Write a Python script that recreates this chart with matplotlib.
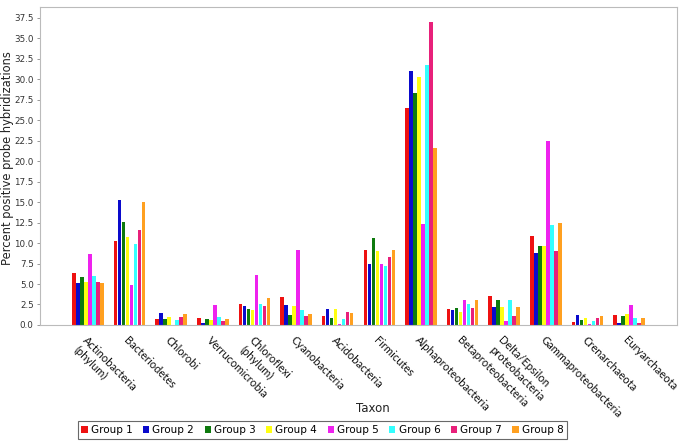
import matplotlib
matplotlib.use('Agg')
import matplotlib.pyplot as plt
import numpy as np

taxa = ['Actinobacteria\n(phylum)', 'Bacteriodetes', 'Chlorobi', 'Verrucomicrobia',
        'Chloroflexi\n(phylum)', 'Cyanobacteria', 'Acidobacteria', 'Firmicutes',
        'Alphaproteobacteria', 'Betaproteobacteria', 'Delta/Epsilon\nproteobacteria',
        'Gammaproteobacteria', 'Crenarchaeota', 'Euryarchaeota']
groups = ['Group 1', 'Group 2', 'Group 3', 'Group 4', 'Group 5', 'Group 6', 'Group 7', 'Group 8']

group1 = [6.3, 10.3, 0.7, 0.9, 2.5, 3.4, 1.1, 9.2, 26.5, 1.9, 3.5, 10.9, 0.4, 1.2]
group2 = [5.1, 15.2, 1.5, 0.2, 2.3, 2.4, 2.0, 7.4, 31.0, 1.8, 2.2, 8.8, 1.2, 0.2]
group3 = [5.8, 12.6, 0.7, 0.7, 2.0, 1.2, 0.9, 10.6, 28.3, 2.1, 3.1, 9.6, 0.6, 1.1]
group4 = [5.2, 10.7, 1.0, 0.6, 1.8, 2.3, 1.9, 9.0, 30.2, 1.6, 2.2, 9.6, 0.8, 1.3]
group5 = [8.6, 4.9, 0.0, 2.4, 6.1, 9.2, 0.1, 7.4, 12.3, 3.0, 0.5, 22.4, 0.1, 2.4]
group6 = [6.0, 9.9, 0.6, 1.0, 2.5, 1.8, 0.7, 7.2, 31.7, 2.6, 3.0, 12.2, 0.5, 0.8]
group7 = [5.3, 11.6, 1.0, 0.5, 2.3, 1.1, 1.6, 8.3, 37.0, 2.1, 1.1, 9.0, 0.8, 0.3]
group8 = [5.1, 15.0, 1.3, 0.7, 3.3, 1.3, 1.5, 9.2, 21.6, 3.1, 2.2, 12.4, 1.1, 0.8]
series = [group1, group2, group3, group4, group5, group6, group7, group8]

colors = ['#ee1111', '#0a0acc', '#0e7a0e', '#ffff11', '#ee22ee', '#33ffff', '#e8207a', '#ffa020']

fig = plt.figure(figsize=(6.86, 4.45), dpi=100)
ax = fig.add_axes([0.0583, 0.2697, 0.9286, 0.7146])

x = np.arange(len(taxa))
pitch = 0.096
for i, (vals, c, g) in enumerate(zip(series, colors, groups)):
    ax.bar(x + (i - 3.5) * pitch, vals, width=0.084, color=c, label=g, linewidth=0)

ax.set_xlim(-1.15, 14.15)
ax.set_ylim(0, 38.8)
ax.set_yticks(np.arange(0, 37.6, 2.5))
ax.set_yticklabels(['%.1f' % v for v in np.arange(0, 37.6, 2.5)], fontsize=6.3, color='#333333')
ax.tick_params(axis='y', length=2.5, width=0.6, color='#888888', pad=2)
ax.set_xticks(x)
ax.set_xticklabels(taxa, rotation=-45, ha='left', va='top', rotation_mode='anchor',
                   fontsize=8, family='Lato', color='#111111')
ax.tick_params(axis='x', length=0, pad=7)
for s in ax.spines.values():
    s.set_color('#bbbbbb')
    s.set_linewidth(0.8)

fig.text(0.011, 0.645, 'Percent positive probe hybridizations', fontsize=8.3, rotation=90,
         ha='center', va='center', color='#222222')
fig.text(0.544, 0.083, 'Taxon', fontsize=8.5, ha='center', va='center', color='#222222')

leg = fig.legend(loc='center', bbox_to_anchor=(0.47, 0.034), ncol=8, fontsize=7.5,
                 handlelength=0.6, handleheight=0.6, handletextpad=0.3, columnspacing=1.0,
                 fancybox=False, frameon=True, borderpad=0.35, borderaxespad=0)
leg.get_frame().set_edgecolor('#444444')
leg.get_frame().set_linewidth(0.8)

fig.savefig('out.png', dpi=100)
